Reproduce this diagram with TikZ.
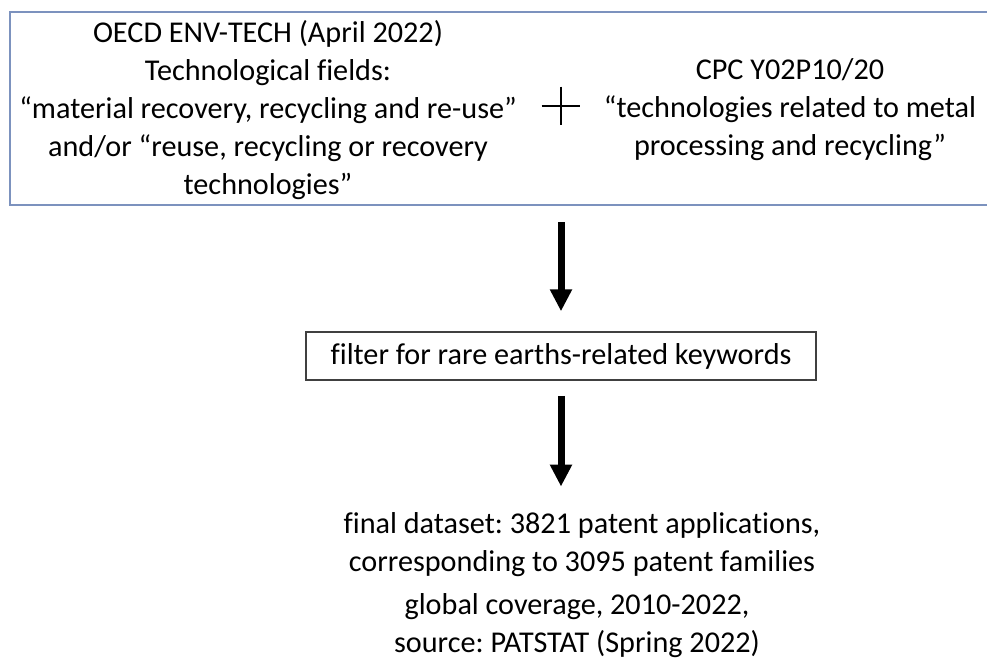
\documentclass[tikz,border=0pt]{standalone}
\usepackage{fontspec}
\setmainfont{Carlito}[Ligatures=NoCommon]
\frenchspacing
\usetikzlibrary{arrows.meta}
\definecolor{frameblue}{RGB}{124,146,190}
\definecolor{boxgray}{RGB}{64,64,64}
\begin{document}
\begin{tikzpicture}[x=0.5pt, y=-0.5pt,
  txt/.style={align=center, inner sep=0pt, font=\fontsize{15.1}{19}\selectfont},
  bigarrow/.style={line width=3.5pt, -{Triangle[width=10.5pt,length=11pt]}}]
\useasboundingbox (0,0) rectangle (987,660);

% Source frame (runs off the right edge)
\node[draw=frameblue, line width=1pt, minimum width=493pt, minimum height=96.5pt,
  anchor=north west, inner sep=0pt] (sources) at (9,11) {};

% Two classifications joined by a plus
\node[txt] (envtech) at (268,110) {OECD ENV-TECH (April 2022)\\Technological fields:\\“material recovery, recycling and re-use”\\and/or “reuse, recycling or recovery\\technologies”};
\node[txt] (cpc) at (790,110) {CPC Y02P10/20\\“technologies related to metal\\processing and recycling”};
\node[minimum size=19pt, inner sep=0pt] (plus) at (561,106) {};
\draw[line width=1.4pt] (plus.north) -- (plus.south) (plus.west) -- (plus.east);

% Filter step
\node[txt, draw=boxgray, line width=0.75pt, minimum width=255pt, minimum height=24pt] (filter) at (561,356) {filter for rare earths-related keywords};

% Result
\node[txt] (final) at (582,545) {final dataset: 3821 patent applications,\\corresponding to 3095 patent families};
\node[txt] (coverage) at (577,626) {global coverage, 2010-2022,\\source: PATSTAT (Spring 2022)};

% Arrows
\draw[bigarrow, shorten <=8pt, shorten >=10pt] (sources.south -| filter.north) -- (filter.north);
\draw[bigarrow, shorten <=7.5pt, shorten >=13pt] (filter.south) -- (filter.south |- final.north);
\end{tikzpicture}
\end{document}
